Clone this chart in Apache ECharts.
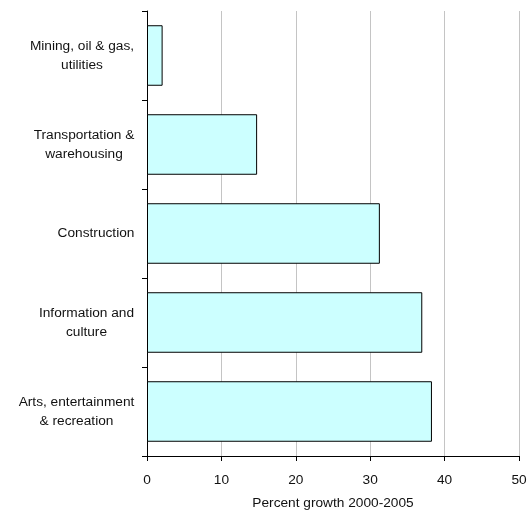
<!DOCTYPE html>
<html>
<head>
<meta charset="utf-8">
<script src="https://cdn.jsdelivr.net/npm/echarts@6/dist/echarts.min.js"></script>
<style>
  html, body { margin: 0; padding: 0; background: #ffffff; }
  #chart { width: 528px; height: 510px; }
</style>
</head>
<body>
<div id="chart"></div>
<script>
// Industry sectors, top to bottom
var categories = [
  'Mining, oil & gas,\nutilities',
  'Transportation &\nwarehousing',
  'Construction',
  'Information and\nculture',
  'Arts, entertainment\n& recreation'
];
// Percent growth 2000-2005 for each sector
var growth = [2.1, 14.8, 31.3, 37.0, 38.3];
var xTicks = { min: 0, max: 50, interval: 10 };
var xTitle = 'Percent growth 2000-2005';

var FONT_FAMILY = 'Liberation Sans, Arial, sans-serif';
var FONT_SIZE = 13.7;

// Each category label is a block aligned to the axis, with its lines centred
// inside the block: give every label a rich style as wide as its longest line.
var measureCtx = document.createElement('canvas').getContext('2d');
measureCtx.font = FONT_SIZE + 'px ' + FONT_FAMILY;
var richStyles = {};
categories.forEach(function (label, i) {
  var w = 0;
  label.split('\n').forEach(function (line) {
    w = Math.max(w, measureCtx.measureText(line).width);
  });
  richStyles['c' + i] = {
    width: Math.ceil(w) + 1,
    align: 'center',
    fontSize: FONT_SIZE,
    fontFamily: FONT_FAMILY,
    color: '#111',
    lineHeight: 18.5
  };
});

var chart = echarts.init(document.getElementById('chart'), null, { renderer: 'canvas' });
chart.setOption({
  animation: false,
  backgroundColor: '#ffffff',
  textStyle: { fontFamily: FONT_FAMILY },
  grid: { left: 147, right: 9, top: 11, bottom: 54, containLabel: false, outerBoundsMode: 'none' },
  xAxis: {
    type: 'value',
    min: xTicks.min,
    max: xTicks.max,
    interval: xTicks.interval,
    name: xTitle,
    nameLocation: 'middle',
    nameGap: 40,
    nameTextStyle: { color: '#111', fontSize: FONT_SIZE, fontFamily: FONT_FAMILY },
    axisLine: { show: true, onZero: false, lineStyle: { color: '#000', width: 1 } },
    axisTick: { show: true, length: 5, lineStyle: { color: '#000' } },
    axisLabel: { color: '#111', fontSize: FONT_SIZE, fontFamily: FONT_FAMILY, margin: 17 },
    splitLine: { show: true, lineStyle: { color: '#c4c4c4', width: 1 } }
  },
  yAxis: {
    type: 'category',
    data: categories,
    inverse: true,
    axisLine: { show: true, lineStyle: { color: '#000', width: 1 } },
    axisTick: { show: true, length: 5, alignWithLabel: false, lineStyle: { color: '#000' } },
    axisLabel: {
      margin: 12,
      align: 'right',
      rich: richStyles,
      formatter: function (value, index) {
        return value.split('\n').map(function (line) {
          return '{c' + index + '|' + line + '}';
        }).join('\n');
      }
    },
    splitLine: { show: false }
  },
  series: [{
    type: 'bar',
    data: growth,
    barCategoryGap: '32%',
    itemStyle: { color: '#ccffff', borderColor: '#000', borderWidth: 1 },
    silent: true
  }]
});
</script>
</body>
</html>
